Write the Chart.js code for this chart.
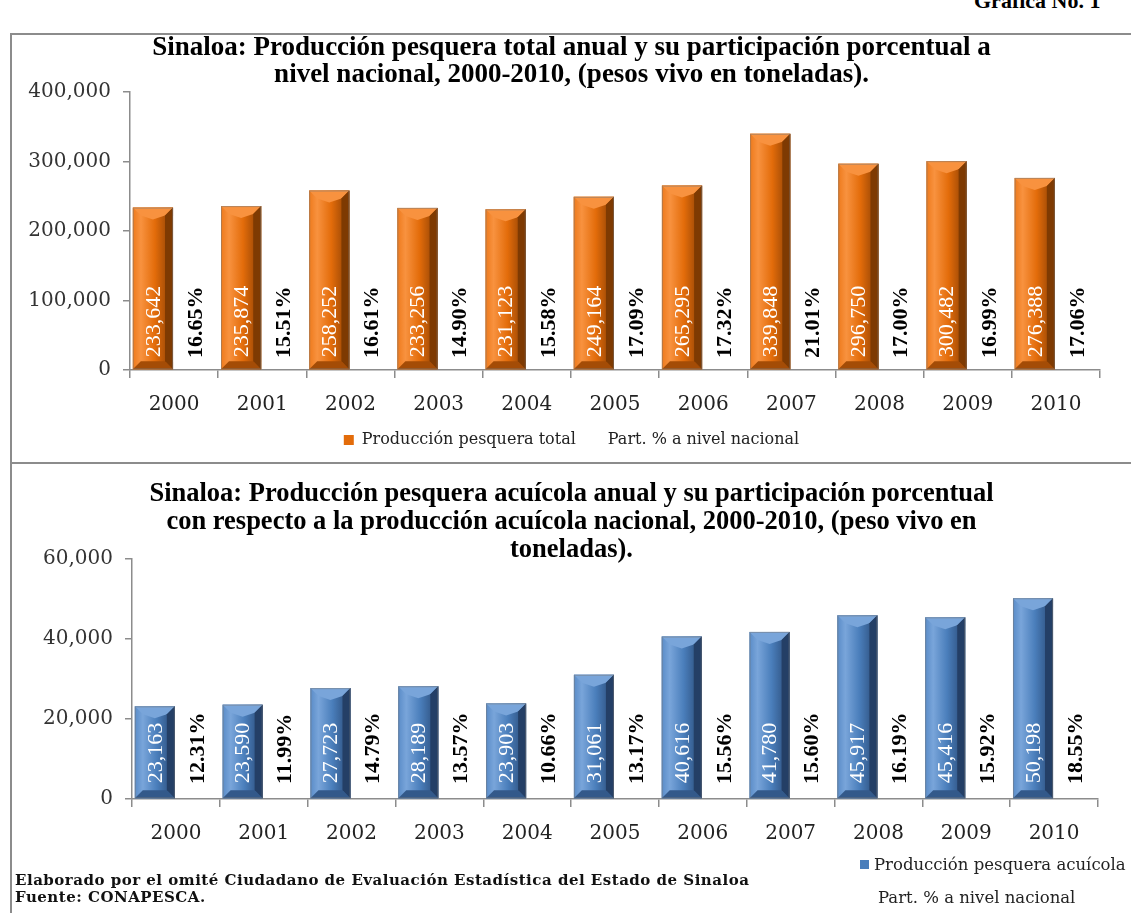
<!DOCTYPE html>
<html>
<head>
<meta charset="utf-8">
<script src="https://cdn.jsdelivr.net/npm/chart.js@4.4.0/dist/chart.umd.min.js"></script>
<style>
  body { margin: 0; background: #fff; width: 1131px; height: 913px; overflow: hidden; position: relative; font-family: "Liberation Serif", serif; }
  .frame { position: absolute; border-color: #8c8c8c; border-style: solid; border-width: 0; }
  #f1 { left: 10px; top: 33px; width: 1125px; height: 427px; border-left-width: 2px; border-top-width: 2px; border-bottom-width: 2px; }
  #f2 { left: 10px; top: 462px; width: 0; height: 460px; border-left-width: 2px; }
  canvas { position: absolute; }
  #c1 { left: 12px; top: 35px; }
  #c2 { left: 12px; top: 465px; }
  #grafica { position: absolute; left: 974px; top: -12px; font: bold 22px "Liberation Serif", serif; color: #000; white-space: nowrap; }
  .foot { position: absolute; left: 15px; font: bold 15px "DejaVu Serif", serif; color: #111; white-space: nowrap; letter-spacing: 0.5px; }
  .leg { position: absolute; font: 16.5px "DejaVu Serif", serif; color: #222; white-space: nowrap; }
  .sw { display: inline-block; width: 9px; height: 9px; background: #4A7EBB; margin-right: 5px; vertical-align: 1px; }
</style>
</head>
<body>
<div id="grafica">Gráfica No. 1</div>
<div class="frame" id="f1"></div>
<div class="frame" id="f2"></div>
<canvas id="c1" width="1119" height="425"></canvas>
<canvas id="c2" width="1119" height="448"></canvas>
<div class="leg" style="left:860px;top:855px;"><span class="sw"></span>Producción pesquera acuícola</div>
<div class="leg" style="left:878px;top:888px;">Part. % a nivel nacional</div>
<div class="foot" style="top:871px;">Elaborado por el omité Ciudadano de Evaluación Estadística del Estado de Sinaloa</div>
<div class="foot" style="top:888px;">Fuente: CONAPESCA.</div>
<script>
const years = ['2000', '2001', '2002', '2003', '2004', '2005', '2006', '2007', '2008', '2009', '2010'];

// Producción pesquera total (toneladas) y participación nacional (%)
const prodTotal = [233642, 235874, 258252, 233256, 231123, 249164, 265295, 339848, 296750, 300482, 276388];
const pctTotal = [16.65, 15.51, 16.61, 14.90, 15.58, 17.09, 17.32, 21.01, 17.00, 16.99, 17.06];

// Producción acuícola (toneladas) y participación nacional (%)
const prodAcui = [23163, 23590, 27723, 28189, 23903, 31061, 40616, 41780, 45917, 45416, 50198];
const pctAcui = [12.31, 11.99, 14.79, 13.57, 10.66, 13.17, 15.56, 15.60, 16.19, 15.92, 18.55];

const orange = { main: '#E36C0A', light: '#F8923F', mid: '#EE7A1C', dark: '#7E3A02', bottom: '#A44C06' };
const blue = { main: '#4A7EBB', light: '#79A5DA', mid: '#5A8CC8', dark: '#243F66', bottom: '#33598A' };

// bevel look for the bars, drawn over the library's own bar elements
const bevelPlugin = {
  id: 'bevel',
  afterDatasetDraw(chart, args, opts) {
    if (args.index !== 0) return;
    const c = opts.colors;
    const ctx = chart.ctx;
    chart.getDatasetMeta(0).data.forEach(bar => {
      const L = bar.x - bar.width / 2, R = bar.x + bar.width / 2;
      const T = bar.y, B = bar.base;
      const b = 8;
      const g = ctx.createLinearGradient(L, 0, R, 0);
      g.addColorStop(0, c.mid);
      g.addColorStop(0.2, c.light);
      g.addColorStop(0.55, c.main);
      g.addColorStop(0.85, c.bottom);
      g.addColorStop(1, c.dark);
      ctx.save();
      ctx.fillStyle = g;
      ctx.fillRect(L, T, R - L, B - T);
      const poly = (pts, col) => {
        ctx.beginPath();
        ctx.moveTo(pts[0][0], pts[0][1]);
        pts.slice(1).forEach(p => ctx.lineTo(p[0], p[1]));
        ctx.closePath();
        ctx.fillStyle = col;
        ctx.fill();
      };
      poly([[L, T], [R, T], [R - b, T + b], [bar.x, T + b + 4], [L + b, T + b]], c.light);
      poly([[R, T], [R, B], [R - b, B - b], [R - b, T + b]], c.dark);
      poly([[L, B], [R, B], [R - b, B - b], [L + b, B - b]], c.bottom);
      ctx.strokeStyle = 'rgba(120,120,120,0.5)';
      ctx.lineWidth = 1;
      ctx.strokeRect(L + 0.5, T + 0.5, R - L - 1, B - T - 1);
      ctx.restore();
    });
  }
};

// rotated value and percentage labels
const labelPlugin = {
  id: 'rotLabels',
  afterDatasetsDraw(chart, args, opts) {
    const ctx = chart.ctx;
    const draw = (el, text, font, color) => {
      ctx.save();
      ctx.translate(el.x, el.base - opts.lift);
      ctx.rotate(-Math.PI / 2);
      ctx.font = font;
      ctx.fillStyle = color;
      ctx.textAlign = 'left';
      ctx.textBaseline = 'middle';
      ctx.fillText(text, 0, 1);
      ctx.restore();
    };
    const vals = chart.data.datasets[0].data;
    const pcts = chart.data.datasets[1].data;
    chart.getDatasetMeta(0).data.forEach((el, i) =>
      draw(el, vals[i].toLocaleString('en-US'), '22px "Liberation Serif"', '#fff'));
    chart.getDatasetMeta(1).data.forEach((el, i) =>
      draw(el, pcts[i].toFixed(2) + '%', 'bold 22px "Liberation Serif"', '#000'));
  }
};

function makeChart(id, o) {
  return new Chart(document.getElementById(id), {
    type: 'bar',
    data: {
      labels: years,
      datasets: [{
        label: o.barLabel,
        data: o.values,
        yAxisID: 'y',
        backgroundColor: o.colors.main,
        categoryPercentage: 0.96,
        barPercentage: 0.95
      }, {
        label: 'Part. % a nivel nacional',
        data: o.pcts,
        yAxisID: 'yp',
        backgroundColor: 'rgba(0,0,0,0)',
        categoryPercentage: 0.96,
        barPercentage: 0.95
      }]
    },
    options: {
      responsive: false,
      animation: false,
      layout: { padding: o.padding },
      plugins: {
        title: {
          display: true,
          text: o.title,
          color: '#000',
          font: o.titleFont,
          padding: o.titlePadding
        },
        legend: o.legend,
        tooltip: { enabled: false },
        bevel: { colors: o.colors },
        rotLabels: { lift: o.lift }
      },
      scales: {
        x: {
          afterFit: s => { s.height = o.xHeight; },
          grid: { offset: true, drawOnChartArea: false, tickLength: 8, color: '#8c8c8c', lineWidth: 1.5 },
          border: { color: '#8c8c8c', width: 1.5 },
          ticks: { color: '#222', padding: 15, font: { family: 'DejaVu Serif', size: 20 } }
        },
        y: {
          min: 0,
          max: o.max,
          afterFit: s => { s.width = o.yWidth; },
          ticks: {
            stepSize: o.step,
            color: '#333',
            padding: 12,
            font: { family: 'DejaVu Serif', size: 20 },
            callback: v => v.toLocaleString('en-US')
          },
          grid: { drawOnChartArea: false, tickLength: 7, color: '#8c8c8c', lineWidth: 1.5 },
          border: { color: '#8c8c8c', width: 1.5 }
        },
        // percentage series: invisible bars on their own scale, kept as an empty right margin
        yp: {
          position: 'right',
          min: 0,
          max: 100,
          afterFit: s => { s.width = o.rightGap; },
          ticks: { display: false },
          grid: { display: false },
          border: { display: false }
        }
      }
    },
    plugins: [bevelPlugin, labelPlugin]
  });
}

makeChart('c1', {
  barLabel: 'Producción pesquera total',
  values: prodTotal,
  pcts: pctTotal,
  colors: orange,
  max: 400000,
  step: 100000,
  title: ['Sinaloa: Producción pesquera total anual y su participación porcentual a',
          'nivel nacional, 2000-2010, (pesos vivo en toneladas).'],
  titleFont: { family: 'Liberation Serif', size: 27, weight: 'bold', lineHeight: 1.0 },
  titlePadding: { top: 0, bottom: 3 },
  padding: { top: 0, right: 0, bottom: 2, left: 0 },
  rightGap: 31,
  xHeight: 48,
  yWidth: 118,
  lift: 12,
  legend: {
    display: true,
    position: 'bottom',
    labels: {
      color: '#222',
      boxWidth: 10,
      boxHeight: 10,
      padding: 14,
      font: { family: 'DejaVu Serif', size: 16 }
    }
  }
});

makeChart('c2', {
  barLabel: 'Producción pesquera acuícola',
  values: prodAcui,
  pcts: pctAcui,
  colors: blue,
  max: 60000,
  step: 20000,
  title: ['Sinaloa: Producción pesquera acuícola anual y su participación porcentual',
          'con respecto a la producción acuícola nacional, 2000-2010, (peso vivo en',
          'toneladas).'],
  titleFont: { family: 'Liberation Serif', size: 26.5, weight: 'bold', lineHeight: 1.057 },
  titlePadding: { top: 15, bottom: -5 },
  padding: { top: 0, right: 0, bottom: 64, left: 0 },
  rightGap: 33,
  xHeight: 50,
  yWidth: 120,
  lift: 15,
  legend: { display: false }
});
</script>
</body>
</html>
